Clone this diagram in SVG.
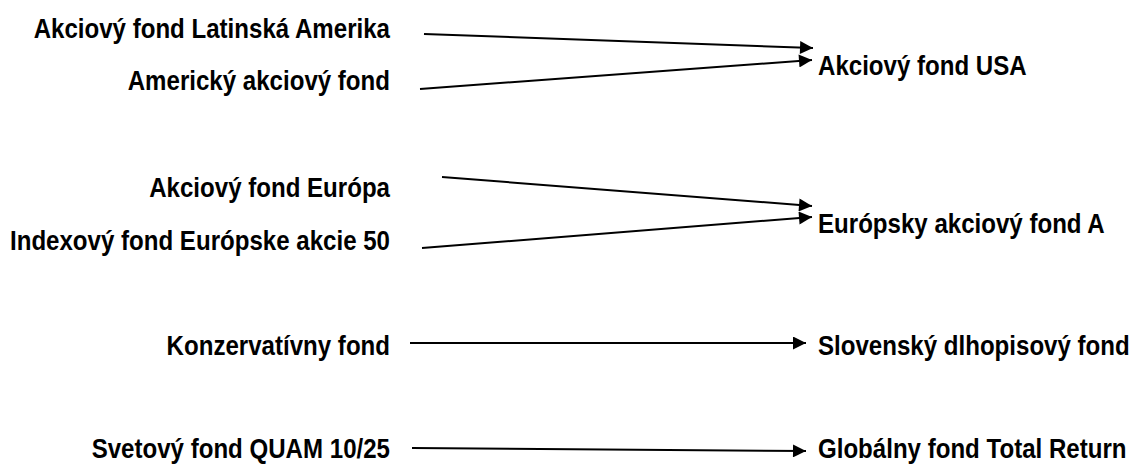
<svg xmlns="http://www.w3.org/2000/svg" width="1132" height="464" viewBox="0 0 1132 464">
<style>
text{font-family:"Liberation Sans",Arial,sans-serif;font-weight:bold;font-size:28px;fill:#000}
.l{text-anchor:end}
.c{stroke:#000;stroke-width:2;fill:none}
</style>
<defs>
<marker id="ah" viewBox="0 0 10 10" refX="10" refY="5" markerWidth="7.5" markerHeight="6.5" markerUnits="strokeWidth" orient="auto">
<path d="M0,0 L10,5 L0,10 z" fill="#000"/>
</marker>
</defs>
<rect width="1132" height="464" fill="#fff"/>
<g id="connectors">
<line class="c" x1="424" y1="34" x2="813" y2="48" marker-end="url(#ah)"/>
<line class="c" x1="420" y1="89" x2="812" y2="60" marker-end="url(#ah)"/>
<line class="c" x1="442" y1="177" x2="812" y2="206" marker-end="url(#ah)"/>
<line class="c" x1="422" y1="248" x2="812" y2="217" marker-end="url(#ah)"/>
<line class="c" x1="410" y1="343" x2="806" y2="343" marker-end="url(#ah)"/>
<line class="c" x1="412" y1="448" x2="806" y2="451" marker-end="url(#ah)"/>
</g>
<g id="n1"><text class="l" transform="translate(390,38) scale(0.86,1)">Akciový fond Latinská Amerika</text></g>
<g id="n2"><text class="l" transform="translate(390,90) scale(0.86,1)">Americký akciový fond</text></g>
<g id="n3"><text class="l" transform="translate(390,197) scale(0.86,1)">Akciový fond Európa</text></g>
<g id="n4"><text class="l" transform="translate(390,250) scale(0.86,1)">Indexový fond Európske akcie 50</text></g>
<g id="n5"><text class="l" transform="translate(390,355) scale(0.86,1)">Konzervatívny fond</text></g>
<g id="n6"><text class="l" transform="translate(390,458) scale(0.86,1)">Svetový fond QUAM 10/25</text></g>
<g id="n7"><text transform="translate(818,75) scale(0.86,1)">Akciový fond USA</text></g>
<g id="n8"><text transform="translate(818,233) scale(0.86,1)">Európsky akciový fond A</text></g>
<g id="n9"><text transform="translate(818,355) scale(0.86,1)">Slovenský dlhopisový fond</text></g>
<g id="n10"><text transform="translate(818,458) scale(0.86,1)">Globálny fond Total Return</text></g>
</svg>
